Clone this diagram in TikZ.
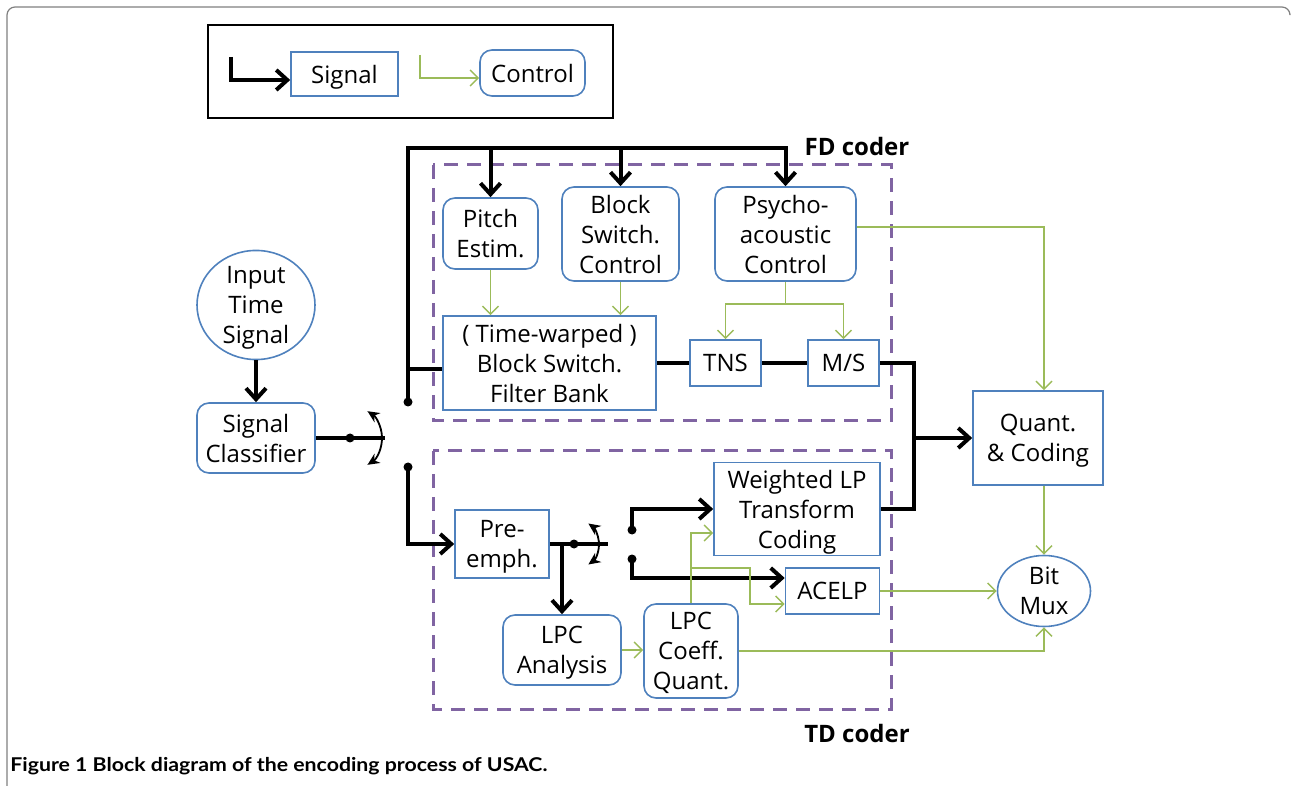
\documentclass[tikz,border=0pt]{standalone}
\usepackage{fontspec}
\setmainfont{Open Sans}
\newfontfamily\capfont{Lato}
\usetikzlibrary{arrows.meta,calc,shapes.geometric}
\definecolor{boxblue}{HTML}{4F81BD}
\definecolor{ctlgreen}{HTML}{9BBB59}
\definecolor{dashpurple}{HTML}{8064A2}
\definecolor{framegray}{HTML}{808080}
\tikzset{
  blk/.style={draw=boxblue, line width=0.8pt, align=center, inner sep=0pt, fill=white, text depth=-1pt},
  rbox/.style={blk, rounded corners=6pt},
  oval/.style={blk, ellipse},
  wh/.style 2 args={minimum width={#1*0.5pt}, minimum height={#2*0.5pt}},
  sig/.style={line width=2pt, line join=miter},
  sigarr/.style={sig, -{Straight Barb[length=5.5pt,width=10pt]}},
  ctl/.style={draw=ctlgreen, line width=0.75pt},
  ctlarr/.style={ctl, -{Straight Barb[length=4pt,width=8pt]}},
  swarr/.style={line width=0.9pt, {Stealth[length=6pt,width=5.5pt]}-{Stealth[length=6pt,width=5.5pt]}},
  coderbox/.style={draw=dashpurple, line width=1.5pt, dash pattern=on 7pt off 4.5pt},
  coderlbl/.style={font=\bfseries\fontsize{12}{15}\selectfont}
}
\begin{document}
\begin{tikzpicture}[x=0.5pt,y=-0.5pt, font=\fontsize{12}{15}\selectfont]
\path[use as bounding box] (0,0) rectangle (1292,786);

% outer frame
\draw[framegray, line width=0.6pt, rounded corners=4pt] (7,800) -- (7,7) -- (1290,7) -- (1290,14);

% legend
\node[draw, line width=1pt, wh={405}{93}] (legend) at (410.5,71.5) {};
\node[blk, wh={107}{44}] (lsig) at (344.5,74) {Signal};
\node[rbox, wh={105}{46}] (lctl) at (532.5,73) {Control};
\coordinate (ls0) at (231,57);
\coordinate (lc0) at (420,55);
\draw[sigarr] (ls0) |- ($(lsig.west)+(0,6)$);
\draw[ctlarr] (lc0) |- ($(lctl.west)+(0,5)$);

% coder boxes
\draw[coderbox] (433,165) rectangle (891,421);
\draw[coderbox] (433,451) rectangle (891,709);
\node[coderlbl] (fdl) at (857,147) {FD coder};
\node[coderlbl] (tdl) at (857,733) {TD coder};

% nodes
\node[oval, wh={118}{106}] (inp) at (256,305) {Input\\Time\\Signal};
\node[rbox, wh={118}{70}] (cls) at (256,438) {Signal\\Classifier};
\node[rbox, wh={95}{71}] (pitch) at (490.5,233.5) {Pitch\\Estim.};
\node[rbox, wh={117}{94}] (bsc) at (620.5,234) {Block\\Switch.\\Control};
\node[rbox, wh={141}{94}] (psy) at (785.5,234) {Psycho-\\acoustic\\Control};
\node[blk, wh={213}{94}] (fb) at (549.5,363) {( Time-warped )\\Block Switch.\\Filter Bank};
\node[blk, wh={71}{46}] (tns) at (725.5,363) {TNS};
\node[blk, wh={71}{46}] (ms) at (843.5,363) {M/S};
\node[blk, wh={130}{94}] (quant) at (1038,438) {Quant.\\\& Coding};
\node[oval, wh={93}{71}] (mux) at (1044,591) {Bit\\Mux};
\node[blk, wh={94}{68}] (pre) at (502,544) {Pre-\\emph.};
\node[blk, wh={166}{93}] (wlp) at (797,509) {Weighted LP\\Transform\\Coding};
\node[blk, wh={94}{46}] (acelp) at (832.5,591) {ACELP};
\node[rbox, wh={118}{70}] (lpca) at (562,650) {LPC\\Analysis};
\node[rbox, wh={94}{94}] (lpcq) at (691,651) {LPC\\Coeff.\\Quant.};

% input -> classifier
\draw[sigarr] (inp) -- (cls);

% switch 1
\coordinate (d1) at (350,438);
\coordinate (s1e) at (385,438);
\coordinate (c1a) at (408,402);
\coordinate (c1b) at (408,467);
\draw[sig] (cls.east) -- (s1e);
\fill (d1) circle[radius=4.5];
\draw[swarr] ($(d1)+(57:32)$) arc[start angle=57,end angle=-57,radius=32];
\fill (c1a) circle[radius=4.5];
\fill (c1b) circle[radius=4.5];

% FD signal bus
\coordinate (bus) at (408,148);
\coordinate (fbin) at ($(fb.west)+(0,6)$);
\draw[sigarr] (c1a) -- (bus) -- (psy.north |- bus) -- (psy.north);
\draw[sigarr] (pitch.north |- bus) -- (pitch.north);
\draw[sigarr] (bsc.north |- bus) -- (bsc.north);
\draw[sig] (c1a |- fbin) -- (fbin);
\draw[sig] (fb.east) -- (tns.west);
\draw[sig] (tns.east) -- (ms.west);
\coordinate (mrg) at (914,438);
\draw[sig] (ms.east) -| (mrg |- wlp.east) -- (wlp.east);
\draw[sigarr] (mrg) -- (quant.west);

% FD control
\draw[ctlarr] (pitch.south) -- (pitch.south |- fb.north);
\draw[ctlarr] (bsc.south) -- (bsc.south |- fb.north);
\coordinate (psj) at ($(psy.south)+(0,22)$);
\draw[ctl] (psy.south) -- (psj);
\draw[ctlarr] (psj) -| (tns.north);
\draw[ctlarr] (psj) -| (ms.north);
\coordinate (qx) at (1044,227);
\draw[ctlarr] (psy.east |- qx) -- (qx) -- (qx |- quant.north);
\draw[ctlarr] (qx |- quant.south) -- (mux.north);

% TD path
\draw[sigarr] (c1b) |- (pre.west);
\coordinate (d2) at (574,544);
\coordinate (s2e) at (608,544);
\coordinate (c2a) at (632,530);
\coordinate (c2b) at (632,559);
\draw[sig] (pre.east) -- (s2e);
\fill (d2) circle[radius=4.5];
\draw[swarr] ($(d2)+(55:25)$) arc[start angle=55,end angle=-55,radius=25];
\draw[sigarr] (lpca.north |- pre.east) -- (lpca.north);
\fill (c2a) circle[radius=4.5];
\fill (c2b) circle[radius=4.5];
\draw[sigarr] (c2a) |- (wlp.west);
\draw[sigarr] (c2b) |- ($(acelp.west)+(0,-13)$);

% TD control
\draw[ctlarr] (lpca.east) -- (lpca.east -| lpcq.west);
\draw[ctlarr] (lpcq.north) |- ($(wlp.west)+(0,24)$);
\coordinate (lqk) at (750,568);
\coordinate (lqj) at (lpcq.north |- lqk);
\draw[ctlarr] (lqj) -- (lqk) |- ($(acelp.west)+(0,13)$);
\draw[ctlarr] (acelp.east) -- (mux.west);
\draw[ctlarr] (lpcq.east) -| (mux.south);

% caption
\node[anchor=west, font=\capfont\bfseries\fontsize{9.5}{11}\selectfont, inner sep=0pt] (cap) at (10,766) {\scalebox{1.12}[1]{Figure 1 Block diagram of the encoding process of USAC.}};
\end{tikzpicture}
\end{document}
